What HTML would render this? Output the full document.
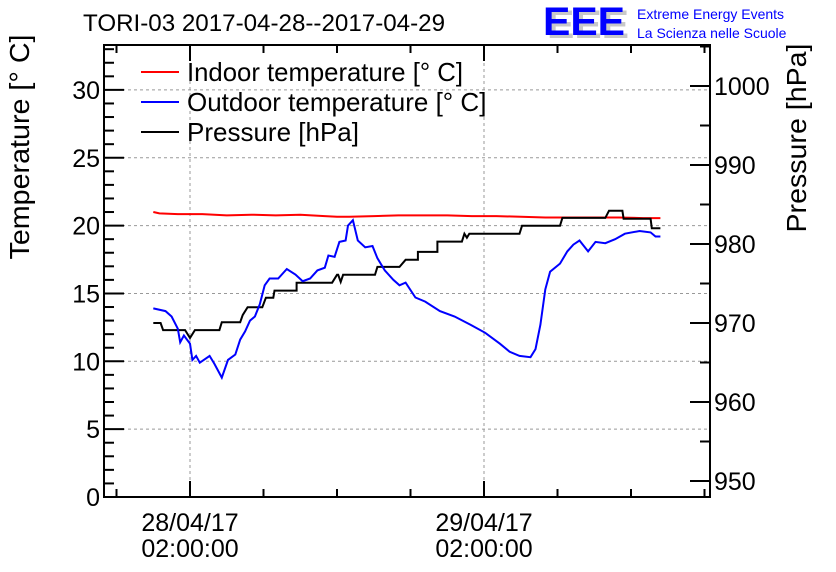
<!DOCTYPE html>
<html><head><meta charset="utf-8"><style>
html,body{margin:0;padding:0;background:#fff;}
svg{display:block;font-family:"Liberation Sans",Arial,sans-serif;}
</style></head><body>
<svg id="chart" width="836" height="572" viewBox="0 0 836 572" xmlns="http://www.w3.org/2000/svg">
<text x="83" y="31" font-size="24" textLength="362" lengthAdjust="spacingAndGlyphs">TORI-03 2017-04-28--2017-04-29</text>
<g>
<text x="547" y="38" font-size="40" fill="#c8c8c8" font-weight="bold" textLength="82" lengthAdjust="spacingAndGlyphs">EEE</text>
<text x="543" y="35" font-size="40" fill="#0000ff" font-weight="bold" textLength="82" lengthAdjust="spacingAndGlyphs">EEE</text>
<text x="637" y="19" font-size="14" fill="#0000ff">Extreme Energy Events</text>
<text x="637" y="38" font-size="14" fill="#0000ff">La Scienza nelle Scuole</text>
</g>
<text transform="translate(29,147) rotate(-90)" font-size="28" text-anchor="middle" textLength="225" lengthAdjust="spacingAndGlyphs">Temperature [° C]</text>
<text transform="translate(806,138) rotate(-90)" font-size="28" text-anchor="middle" textLength="189" lengthAdjust="spacingAndGlyphs">Pressure [hPa]</text>
<g id="grid"></g>
<g id="series"></g>
<g id="axes"></g>
<g>
<line x1="141" y1="72" x2="179" y2="72" stroke="#ff0000" stroke-width="2"/>
<text x="187" y="81" font-size="26" textLength="276" lengthAdjust="spacingAndGlyphs">Indoor temperature [° C]</text>
<line x1="141" y1="102" x2="179" y2="102" stroke="#0000ff" stroke-width="2"/>
<text x="187" y="111" font-size="26">Outdoor temperature [° C]</text>
<line x1="141" y1="132" x2="179" y2="132" stroke="#000" stroke-width="2"/>
<text x="187" y="141" font-size="26">Pressure [hPa]</text>
</g>
</svg>
<script>
// hours relative to 28/04/17 02:00:00
const outdoorHours=[-3.0,-2.0,-1.5,-1.0,-0.8,-0.5,0,0.2,0.5,0.8,1.6,2.0,2.6,3.1,3.7,4.1,4.5,4.9,5.3,5.7,6.1,6.5,7.2,7.9,8.6,9.2,9.8,10.4,11.0,11.3,11.8,12.2,12.7,12.9,13.3,13.7,14.3,14.9,15.3,15.9,16.6,17.1,17.6,18.4,19.2,20.4,21.6,22.9,24.1,25.3,26.1,26.9,27.8,28.2,28.6,29.0,29.4,30.2,30.8,31.3,31.8,32.5,33.1,33.9,34.7,35.5,36.7,37.6,38.0,38.4];
const outdoorTemp=[13.9,13.7,13.3,12.4,11.4,11.9,11.3,10.1,10.4,9.9,10.4,9.8,8.8,10.1,10.5,11.6,12.2,13.0,13.3,14.2,15.6,16.1,16.1,16.8,16.4,15.9,16.1,16.7,16.9,17.8,17.7,18.8,18.9,20.0,20.4,18.9,18.4,18.5,17.6,16.7,16.0,15.6,15.8,14.7,14.4,13.7,13.3,12.7,12.1,11.3,10.7,10.4,10.3,10.9,12.7,15.3,16.6,17.2,18.1,18.6,18.9,18.1,18.8,18.7,19.0,19.4,19.6,19.5,19.2,19.2];
const indoorHours=[-3.0,-2.5,-1,1,3,5,7,9,11,12,13,15,17,19,21,23,25,27,29,31,33,35,37,38.4];
const indoorTemp=[21.0,20.9,20.85,20.85,20.75,20.8,20.75,20.8,20.7,20.65,20.65,20.7,20.75,20.75,20.75,20.7,20.7,20.65,20.6,20.6,20.6,20.6,20.55,20.55];
const pressHours=[-3.0,-2.4,-2.2,-0.4,0,0.4,2.4,2.6,4.1,4.3,4.7,5.9,6.2,6.8,6.9,8.7,8.7,11.6,12.0,12.1,12.3,12.5,15.1,15.3,17.1,17.6,18.6,18.6,20.2,20.2,22.2,22.4,22.6,22.8,26.9,27.1,30.2,30.4,33.9,34.2,35.3,35.4,37.6,37.7,38.4];
const pressVal=[970.0,970.0,969.1,969.1,968.1,969.1,969.1,970.1,970.1,971.0,972.0,972.0,973.2,973.2,974.1,974.1,975.1,975.1,976.1,976.1,975.2,976.1,976.1,977.1,977.1,978.0,978.0,979.0,979.0,980.3,980.3,981.3,980.8,981.3,981.3,982.3,982.3,983.3,983.3,984.2,984.2,983.2,983.2,982.0,982.0];
const tempTicks=[0,5,10,15,20,25,30];
const pressTicks=[950,960,970,980,990,1000];
const timeLabels=[["28/04/17","02:00:00",0],["29/04/17","02:00:00",24]];

const L=104,R=710,T=45,B=497;
const xs=h=>190+h*12.25;
const yT=t=>497-t*13.57;
const yP=p=>86+(1000-p)*7.9;
const NS="http://www.w3.org/2000/svg";
function mk(tag,attrs,parent){const e=document.createElementNS(NS,tag);for(const k in attrs)e.setAttribute(k,attrs[k]);parent.appendChild(e);return e;}
const grid=document.getElementById('grid'),axes=document.getElementById('axes'),series=document.getElementById('series');

tempTicks.forEach(t=>{if(t>0){const g=mk('line',{x1:L,x2:R,y1:yT(t),y2:yT(t),stroke:'#999','stroke-dasharray':'3,3'},grid);

}});
timeLabels.forEach(tl=>{const g=mk('line',{x1:xs(tl[2]),x2:xs(tl[2]),y1:T,y2:B,stroke:'#999','stroke-dasharray':'3,3'},grid);

});

function path(hs,vs,yf,color,name){let d='';hs.forEach((h,i)=>{d+=(i?'L':'M')+xs(h).toFixed(1)+','+yf(vs[i]).toFixed(1);});
const p=mk('path',{d:d,fill:'none',stroke:color,'stroke-width':2},series);

}
path(indoorHours,indoorTemp,yT,'#ff0000','indoor-temperature-line');
path(pressHours,pressVal,yP,'#000000','pressure-line');
path(outdoorHours,outdoorTemp,yT,'#0000ff','outdoor-temperature-line');

const fr=mk('rect',{x:L,y:T,width:R-L,height:B-T,fill:'none',stroke:'#000','stroke-width':2},axes);


for(let t=0;t<=33;t++){const len=t%5===0?20:10;mk('line',{x1:L,x2:L+len,y1:yT(t),y2:yT(t),stroke:'#000','stroke-width':2},axes);}
tempTicks.forEach(t=>{const e=mk('text',{x:L-4,y:yT(t)+9,'font-size':25,'text-anchor':'end'},axes);e.textContent=t;

});
for(let p=950;p<=1005;p+=5){const len=p%10===0?20:10;mk('line',{x1:R-len,x2:R,y1:yP(p),y2:yP(p),stroke:'#000','stroke-width':2},axes);}
pressTicks.forEach(p=>{const e=mk('text',{x:R+4,y:yP(p)+9,'font-size':25},axes);e.textContent=p;

});
for(let h=-6;h<=42;h+=6){const x=xs(h);if(x<L||x>R)continue;const len=(h%24===0)?16:8;
mk('line',{x1:x,x2:x,y1:B,y2:B-len,stroke:'#000','stroke-width':2},axes);
mk('line',{x1:x,x2:x,y1:T,y2:T+len,stroke:'#000','stroke-width':2},axes);}
timeLabels.forEach(tl=>{const x=xs(tl[2]);
const a=mk('text',{x:x,y:531,'font-size':25,'text-anchor':'middle'},axes);a.textContent=tl[0];


const b=mk('text',{x:x,y:557,'font-size':25,'text-anchor':'middle'},axes);b.textContent=tl[1];

});
</script>
</body></html>
